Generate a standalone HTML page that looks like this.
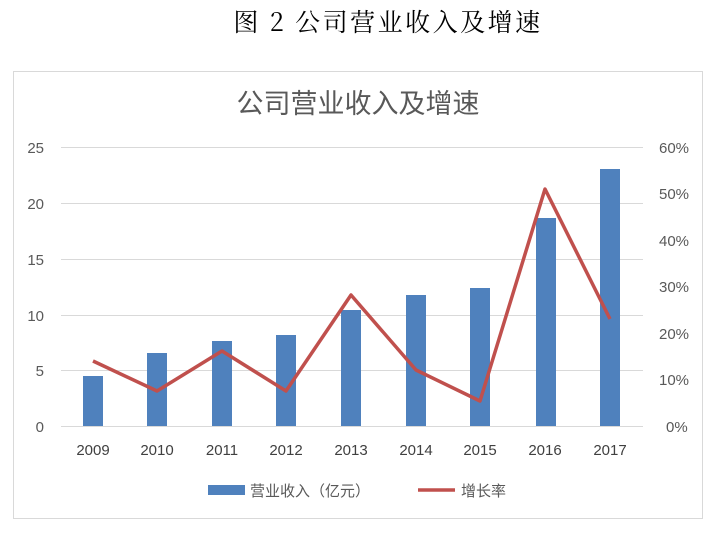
<!DOCTYPE html>
<html><head><meta charset="utf-8"><style>body{margin:0;background:#fff}</style></head>
<body>
<svg width="716" height="555" xmlns="http://www.w3.org/2000/svg" font-family="Liberation Sans, Noto Sans CJK SC, sans-serif">
<text x="388" y="31" font-size="25" letter-spacing="2.5" text-anchor="middle" fill="#000" font-family="Noto Serif CJK SC, serif">图 2  公司营业收入及增速</text>
<rect x="13.5" y="71.5" width="689" height="447" fill="#fff" stroke="#d9d9d9"/>
<text x="358" y="113" font-size="27" text-anchor="middle" fill="#595959" font-family="Noto Sans CJK SC, sans-serif">公司营业收入及增速</text>
<g stroke="#d9d9d9" stroke-width="1">
<line x1="61" x2="643" y1="147.5" y2="147.5"/><line x1="61" x2="643" y1="203.5" y2="203.5"/>
<line x1="61" x2="643" y1="259.5" y2="259.5"/><line x1="61" x2="643" y1="315.5" y2="315.5"/>
<line x1="61" x2="643" y1="370.5" y2="370.5"/><line x1="61" x2="643" y1="426.5" y2="426.5"/>
</g>
<g font-size="15" fill="#595959" text-anchor="end">
<text x="44" y="153">25</text><text x="44" y="209">20</text><text x="44" y="265">15</text>
<text x="44" y="321">10</text><text x="44" y="376">5</text><text x="44" y="432">0</text>
</g>
<g font-size="15" fill="#595959" text-anchor="start">
<text x="659" y="153">60%</text><text x="659" y="199">50%</text><text x="659" y="246">40%</text>
<text x="659" y="292">30%</text><text x="659" y="339">20%</text><text x="659" y="385">10%</text><text x="666" y="432">0%</text>
</g>
<g fill="#4f81bd">
<rect x="83" y="376" width="20" height="50"/><rect x="147" y="353" width="20" height="73"/>
<rect x="212" y="341" width="20" height="85"/><rect x="276" y="335" width="20" height="91"/>
<rect x="341" y="310" width="20" height="116"/><rect x="406" y="295" width="20" height="131"/>
<rect x="470" y="288" width="20" height="138"/><rect x="536" y="218" width="20" height="208"/>
<rect x="600" y="169" width="20" height="257"/>
</g>
<polyline fill="none" stroke="#c0504d" stroke-width="3.5" stroke-linejoin="round" points="93,361 157,391 222,351 286,391 351,295 416,370 480,401 545,189 610,319"/>
<g font-size="15" fill="#404040" text-anchor="middle">
<text x="93" y="455">2009</text><text x="157" y="455">2010</text><text x="222" y="455">2011</text>
<text x="286" y="455">2012</text><text x="351" y="455">2013</text><text x="416" y="455">2014</text>
<text x="480" y="455">2015</text><text x="545" y="455">2016</text><text x="610" y="455">2017</text>
</g>
<rect x="208" y="485" width="37" height="10" fill="#4f81bd"/>
<text x="250" y="496" font-size="15" fill="#595959">营业收入（亿元）</text>
<line x1="418" x2="455" y1="490" y2="490" stroke="#c0504d" stroke-width="3.5"/>
<text x="461" y="496" font-size="15" fill="#595959">增长率</text>
</svg>
</body></html>
